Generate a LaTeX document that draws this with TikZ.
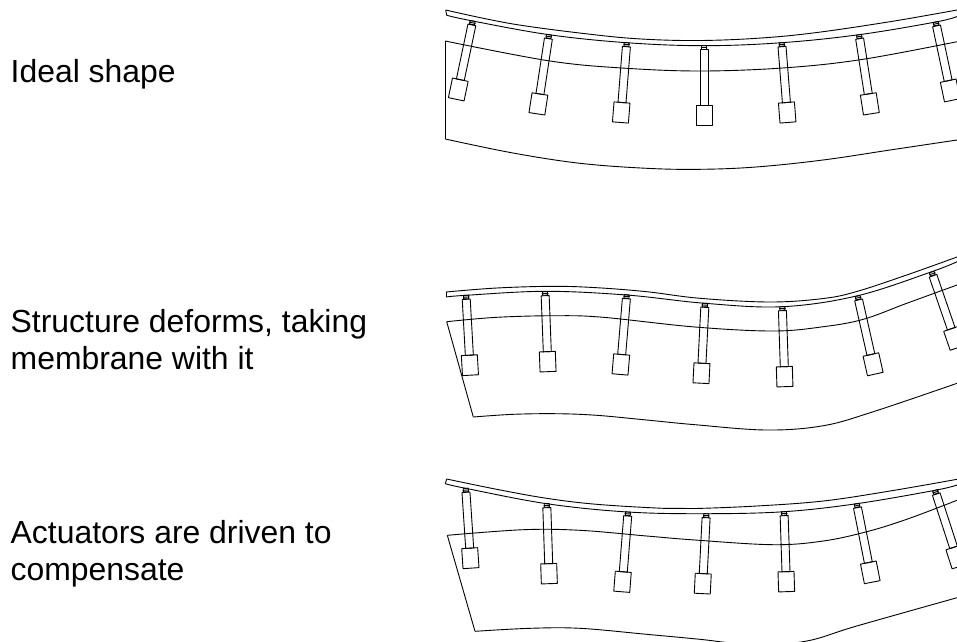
\documentclass[tikz,border=0pt]{standalone}
\usepackage{fontspec}
\setmainfont{Liberation Sans}
\tikzset{
  outline/.style={draw=black,line width=0.9pt,line join=round},
  curveline/.style={outline,smooth,tension=0.6},
  caption/.style={anchor=base west,inner sep=0pt,font=\fontsize{31.9}{37}\selectfont,text=black}
}
% actuator: tip x, tip y, rotation (deg, display ccw)
\newcommand{\actuator}[3]{%
  \begin{scope}[shift={(#1,#2)},rotate=#3]
    \draw[outline] (-2.5,0) rectangle (2.5,3.5);
    \draw[outline] (-3.2,1.8) -- (3.2,1.8);
    \draw[outline] (-4,4) rectangle (4,60);
    \draw[outline] (-8,60) rectangle (8,80);
  \end{scope}}
\begin{document}
\begin{tikzpicture}[x=1pt,y=-1pt]
\useasboundingbox (0,0) rectangle (957,641);
\node[caption] (t1) at (10.5,82.3) {Ideal shape};
\node[caption] (t2) at (10.5,332.7) {Structure deforms, taking};
\node[caption] (t2b) at (10.5,369.3) {membrane with it};
\node[caption] (t3) at (10.5,543.3) {Actuators are driven to};
\node[caption] (t3b) at (10.5,580) {compensate};
\begin{scope}
\clip (0,0) rectangle (957,641);
% panel 1
\draw[curveline] plot coordinates {(445.7,10)(513,24)(596.7,35)(646.7,39.3)(700,40.5)(756.7,38.3)(813,33)(890,21.7)(957,10)};
\draw[curveline] plot coordinates {(446.7,15.3)(472.7,21)(549,34.7)(626.7,42.7)(704,45.7)(781.7,42.7)(859,34.7)(935.7,22)(957,16.5)};
\draw[outline] (445.7,10) -- (446.7,15.3);
\draw[curveline] plot coordinates {(445.3,41)(550,61)(626.7,68.3)(703,71)(786.7,67.7)(863,59.3)(957,41.7)};
\draw[curveline] plot coordinates {(445.3,139)(513,153)(580,163.3)(646.7,168.3)(700,169.3)(756,167)(823,160)(890,150)(957,140)};
\draw[outline] (445.3,41) -- (445.3,139);
\actuator{472.7}{21}{-11.9}
\actuator{549}{34.7}{-8.7}
\actuator{626.7}{42.7}{-4.5}
\actuator{704}{45.7}{0}
\actuator{781.7}{42.7}{4.5}
\actuator{859}{34.7}{8.9}
\actuator{935.7}{22}{12}
% panel 2
\draw[curveline] plot coordinates {(446,292)(496.7,288)(553.3,286.3)(596.7,287.7)(646.7,291.7)(700,298.3)(770,302)(823.3,298.5)(856.7,291.5)(906.7,275)(957,257)};
\draw[curveline] plot coordinates {(446,297)(466,295.3)(545,291.3)(626.7,295)(705,303.3)(782.3,306.7)(857.7,295.7)(931.7,271.7)(957,261.7)};
\draw[outline] (446,292) -- (446,297);
\draw[curveline] plot coordinates {(446.7,321.7)(496.7,317.3)(556.7,315.7)(603.3,317.3)(695,327)(773.3,331)(823.3,326.7)(863.3,319.3)(906.7,303.3)(957,285)};
\draw[curveline] plot coordinates {(473.3,417)(513.3,414.3)(556.7,413.7)(596.7,415.3)(646.7,420)(695,424.7)(766.7,430)(823.3,425.7)(873.3,411.7)(957,383.3)};
\draw[outline] (446.7,321.7) -- (473.3,417);
\actuator{466}{295.3}{3.2}
\actuator{545}{291.7}{2.2}
\actuator{626.7}{294.7}{-4.8}
\actuator{705}{303.3}{-2.9}
\actuator{782.3}{306.7}{1.9}
\actuator{857.7}{296}{12.7}
\actuator{931.7}{272}{19}
% panel 3
\draw[curveline] plot coordinates {(446.7,479)(496.7,489.3)(546.7,498.3)(596.7,504.3)(663.3,508.3)(695,508.5)(756.7,506)(823.3,501)(890,491)(957,479.3)};
\draw[curveline] plot coordinates {(445.3,483.7)(465.7,488.3)(546.7,503.7)(628,512)(706.3,513.7)(784,511.7)(856.7,503.7)(935,490.3)(957,485)};
\draw[outline] (446.7,479) -- (445.3,483.7);
\draw[curveline] plot coordinates {(447.3,535.3)(523.3,529.7)(580,530.3)(646.7,536)(695,540)(773.3,544.7)(823.3,541)(866.7,531.7)(906.7,519.3)(957,500.3)};
\draw[curveline] plot coordinates {(475,631.3)(530,628.3)(580,628.3)(646.7,634.3)(700,639.3)(755,645)(806.7,641)(856.7,626)(957,597.7)};
\draw[outline] (447.3,535.3) -- (475,631.3);
\actuator{465.7}{488.3}{3.8}
\actuator{546.7}{503.7}{1.9}
\actuator{628}{512}{-4.5}
\actuator{706.3}{513.7}{-2.9}
\actuator{784}{511.7}{1.9}
\actuator{856.7}{503.7}{11.2}
\actuator{935}{490.3}{18}
\end{scope}
\end{tikzpicture}
\end{document}
